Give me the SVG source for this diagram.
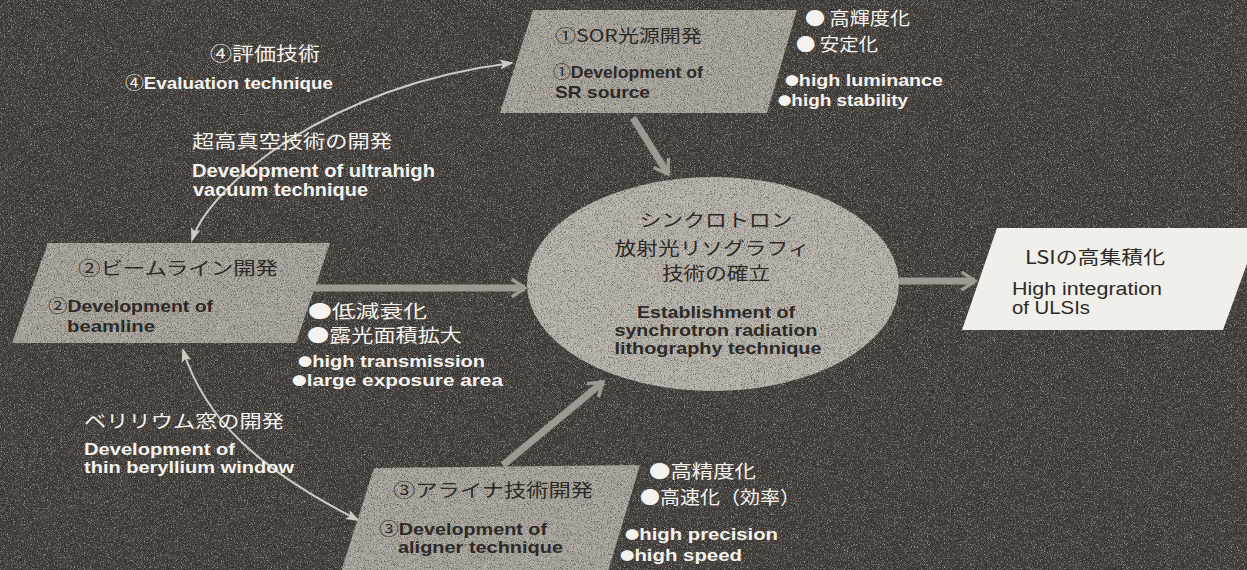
<svg xmlns="http://www.w3.org/2000/svg" width="1247" height="570" viewBox="0 0 1247 570">
<defs>
<filter id="grain" x="0" y="0" width="100%" height="100%" color-interpolation-filters="sRGB">
<feTurbulence type="fractalNoise" baseFrequency="1.3" numOctaves="1" seed="4" result="n"/>
<feColorMatrix in="n" type="matrix" values="0 0 0 0 1  0 0 0 0 1  0 0 0 0 1  1.8 0 0 0 -0.97" result="wh"/>
<feColorMatrix in="n" type="matrix" values="0 0 0 0 0  0 0 0 0 0  0 0 0 0 0  -1.8 0 0 0 0.83" result="bk"/>
<feMerge result="sp"><feMergeNode in="wh"/><feMergeNode in="bk"/></feMerge>
<feComposite in="sp" in2="SourceGraphic" operator="in" result="spc"/>
<feMerge><feMergeNode in="SourceGraphic"/><feMergeNode in="spc"/></feMerge>
</filter>
<marker id="thinHead" viewBox="0 0 14 10" refX="12" refY="5" markerWidth="14" markerHeight="10" markerUnits="userSpaceOnUse" orient="auto-start-reverse">
<path d="M0,0 L14,5 L0,10 L3,5 z" fill="#cfcac2"/>
</marker>
<marker id="wideHead" viewBox="0 0 20 20" refX="16" refY="10" markerWidth="22" markerHeight="22" markerUnits="userSpaceOnUse" orient="auto">
<path d="M4,2 L16,10 L4,18" fill="none" stroke="#aaa59d" stroke-width="3"/>
</marker>
</defs>
<style>
.bg{fill:#45403c}
.box{fill:#a5a098;filter:url(#grain)}
.ell{fill:#b3aea6;filter:url(#grain)}
.lsi{fill:#f1efea}
.thin{fill:none;stroke:#cfcac2;stroke-width:2;marker-start:url(#thinHead);marker-end:url(#thinHead)}
.wide{fill:none;stroke:#a7a29a;stroke-width:7;opacity:0.9;marker-end:url(#wideHead)}
.jp{font-family:"Noto Sans CJK JP","Noto Sans",sans-serif;font-weight:normal}
.en{font-family:"Liberation Sans",Arial,sans-serif;font-weight:bold}
.enr{font-family:"Liberation Sans",Arial,sans-serif}
.w{fill:#f4f2ee}
.d{fill:#2c2926}
.bul{font-size:12px;font-family:"Noto Sans CJK JP",sans-serif}
</style>
<rect class="bg" x="0" y="0" width="1247" height="570" filter="url(#grain)"/>

<g id="connectors">
<path class="thin" d="M192,240 C210,185 330,85 512,63"/>
<path class="thin" d="M183,350 C205,420 260,470 358,520"/>
<path class="wide" d="M633,118 L668,174"/>
<path class="wide" d="M312,288 L525,288"/>
<path class="wide" d="M503,465 L603,382"/>
<path class="wide" d="M898,281 L975,281"/>
</g>

<g id="node-sor">
<polygon class="box" points="533,10 797,10 767,113 500,113"/>
<text class="jp d" x="555" y="42" font-size="17" textLength="147" lengthAdjust="spacingAndGlyphs">①SOR光源開発</text>
<text class="en d" x="553" y="78" font-size="17" textLength="150" lengthAdjust="spacingAndGlyphs"><tspan class="jp">①</tspan>Development of</text>
<text class="en d" x="555" y="98" font-size="17" textLength="95" lengthAdjust="spacingAndGlyphs">SR source</text>
</g>
<g id="sor-notes">
<text class="jp w" x="805" y="25" font-size="18" textLength="105" lengthAdjust="spacingAndGlyphs">● 高輝度化</text>
<text class="jp w" x="796" y="51" font-size="18" textLength="82" lengthAdjust="spacingAndGlyphs">● 安定化</text>
<text class="en w" x="785" y="86" font-size="17" textLength="158" lengthAdjust="spacingAndGlyphs"><tspan class="bul">●</tspan>high luminance</text>
<text class="en w" x="778" y="106" font-size="17" textLength="130" lengthAdjust="spacingAndGlyphs"><tspan class="bul">●</tspan>high stability</text>
</g>

<g id="label-evaluation">
<text class="jp w" x="210" y="61" font-size="19" textLength="110" lengthAdjust="spacingAndGlyphs">④評価技術</text>
<text class="en w" x="125" y="89" font-size="17" textLength="208" lengthAdjust="spacingAndGlyphs"><tspan class="jp">④</tspan>Evaluation technique</text>
</g>
<g id="label-vacuum">
<text class="jp w" x="192" y="148" font-size="18" textLength="200" lengthAdjust="spacingAndGlyphs">超高真空技術の開発</text>
<text class="en w" x="192" y="177" font-size="18" textLength="243" lengthAdjust="spacingAndGlyphs">Development of ultrahigh</text>
<text class="en w" x="193" y="196" font-size="18" textLength="175" lengthAdjust="spacingAndGlyphs">vacuum technique</text>
</g>

<g id="node-beamline">
<polygon class="box" points="48,243 330,243 296,343 12,343"/>
<text class="jp d" x="78" y="275" font-size="18" textLength="200" lengthAdjust="spacingAndGlyphs">②ビームライン開発</text>
<text class="en d" x="48" y="312" font-size="17" textLength="165" lengthAdjust="spacingAndGlyphs"><tspan class="jp">②</tspan>Development of</text>
<text class="en d" x="67" y="332" font-size="17" textLength="88" lengthAdjust="spacingAndGlyphs">beamline</text>
</g>
<g id="beamline-notes">
<text class="jp w" x="308" y="318" font-size="18" textLength="119" lengthAdjust="spacingAndGlyphs">●低減衰化</text>
<text class="jp w" x="307" y="342" font-size="18" textLength="155" lengthAdjust="spacingAndGlyphs">●露光面積拡大</text>
<text class="en w" x="298" y="367" font-size="17" textLength="187" lengthAdjust="spacingAndGlyphs"><tspan class="bul">●</tspan>high transmission</text>
<text class="en w" x="292" y="386" font-size="17" textLength="211" lengthAdjust="spacingAndGlyphs"><tspan class="bul">●</tspan>large exposure area</text>
</g>

<g id="node-center">
<ellipse class="ell" cx="713" cy="284" rx="186" ry="107"/>
<text class="jp d" x="716" y="227" font-size="18" text-anchor="middle" textLength="153" lengthAdjust="spacingAndGlyphs">シンクロトロン</text>
<text class="jp d" x="712" y="255" font-size="18" text-anchor="middle" textLength="195" lengthAdjust="spacingAndGlyphs">放射光リソグラフィ</text>
<text class="jp d" x="716" y="280" font-size="18" text-anchor="middle" textLength="108" lengthAdjust="spacingAndGlyphs">技術の確立</text>
<text class="en d" x="716" y="318" font-size="17" text-anchor="middle" textLength="158" lengthAdjust="spacingAndGlyphs">Establishment of</text>
<text class="en d" x="716" y="336" font-size="17" text-anchor="middle" textLength="203" lengthAdjust="spacingAndGlyphs">synchrotron radiation</text>
<text class="en d" x="718" y="354" font-size="17" text-anchor="middle" textLength="207" lengthAdjust="spacingAndGlyphs">lithography technique</text>
</g>

<g id="node-lsi">
<polygon class="lsi" points="997,228 1260,228 1223,330 962,330"/>
<text class="jp d" x="1025" y="264" font-size="18" textLength="140" lengthAdjust="spacingAndGlyphs">LSIの高集積化</text>
<text class="enr d" x="1012" y="295" font-size="18" textLength="150" lengthAdjust="spacingAndGlyphs">High integration</text>
<text class="enr d" x="1012" y="314" font-size="18" textLength="78" lengthAdjust="spacingAndGlyphs">of ULSIs</text>
</g>

<g id="label-beryllium">
<text class="jp w" x="84" y="428" font-size="18" textLength="200" lengthAdjust="spacingAndGlyphs">ベリリウム窓の開発</text>
<text class="en w" x="84" y="455" font-size="17" textLength="151" lengthAdjust="spacingAndGlyphs">Development of</text>
<text class="en w" x="84" y="473" font-size="17" textLength="210" lengthAdjust="spacingAndGlyphs">thin beryllium window</text>
</g>

<g id="node-aligner">
<polygon class="box" points="374,468 640,465 607,575 340,575"/>
<text class="jp d" x="393" y="497" font-size="18" textLength="200" lengthAdjust="spacingAndGlyphs">③アライナ技術開発</text>
<text class="en d" x="379" y="535" font-size="17" textLength="168" lengthAdjust="spacingAndGlyphs"><tspan class="jp">③</tspan>Development of</text>
<text class="en d" x="398" y="553" font-size="17" textLength="165" lengthAdjust="spacingAndGlyphs">aligner technique</text>
</g>
<g id="aligner-notes">
<text class="jp w" x="649" y="478" font-size="18" textLength="107" lengthAdjust="spacingAndGlyphs">●高精度化</text>
<text class="jp w" x="640" y="504" font-size="18" textLength="160" lengthAdjust="spacingAndGlyphs">●高速化（効率）</text>
<text class="en w" x="625" y="540" font-size="17" textLength="153" lengthAdjust="spacingAndGlyphs"><tspan class="bul">●</tspan>high precision</text>
<text class="en w" x="620" y="561" font-size="17" textLength="122" lengthAdjust="spacingAndGlyphs"><tspan class="bul">●</tspan>high speed</text>
</g>
</svg>
